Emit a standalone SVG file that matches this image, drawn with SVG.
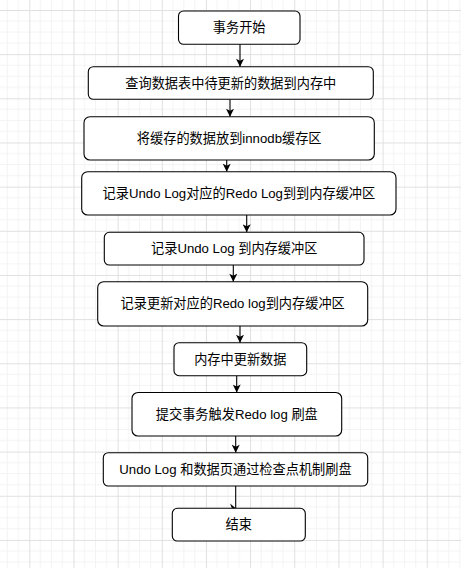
<svg xmlns="http://www.w3.org/2000/svg" width="461" height="568" viewBox="0 0 461 568">
<defs>
<pattern id="grid" x="29.3" y="10" width="44.16" height="44.16" patternUnits="userSpaceOnUse">
<path d="M11.04 0V44.16M22.08 0V44.16M33.12 0V44.16M0 11.04H44.16M0 22.08H44.16M0 33.12H44.16" stroke="#f3f3f3" stroke-width="1" fill="none"/>
<path d="M0.5 0V44.16M0 0.5H44.16" stroke="#e0e0e0" stroke-width="1" fill="none"/>
</pattern>
<marker id="arr" viewBox="0 0 10 10" refX="10" refY="5" markerWidth="10" markerHeight="8" markerUnits="userSpaceOnUse" orient="auto">
<path d="M0,0 L10,5 L0,10 L2.5,5 Z" fill="#000"/>
</marker>
<style>
.box{fill:#fff;stroke:#000;stroke-width:1.1}
.t{font-family:"Liberation Sans","Noto Sans CJK SC",sans-serif;font-size:13.2px;fill:#000;text-anchor:middle;dominant-baseline:central}
.c{stroke:#000;stroke-width:1.1;fill:none}
</style>
</defs>
<rect width="461" height="568" fill="#fff"/>
<rect width="461" height="568" fill="url(#grid)"/>
<g id="connectors">
<line class="c" x1="240" y1="44.3" x2="240" y2="66.7" marker-end="url(#arr)"/>
<line class="c" x1="230" y1="99.3" x2="230" y2="116.7" marker-end="url(#arr)"/>
<line class="c" x1="226.7" y1="160" x2="226.7" y2="171.7" marker-end="url(#arr)"/>
<line class="c" x1="246.7" y1="215" x2="246.7" y2="232.3" marker-end="url(#arr)"/>
<line class="c" x1="233.3" y1="265" x2="233.3" y2="281.7" marker-end="url(#arr)"/>
<line class="c" x1="240" y1="326" x2="240" y2="342.7" marker-end="url(#arr)"/>
<line class="c" x1="236.7" y1="375.7" x2="236.7" y2="392.5" marker-end="url(#arr)"/>
<line class="c" x1="235.7" y1="436" x2="235.7" y2="452.7" marker-end="url(#arr)"/>
<line class="c" x1="235.7" y1="486" x2="235.7" y2="508.3"/>
<path d="M230,503.5 L236,508.5 L232,508.5 Z" fill="#000"/>
</g>
<g id="n1"><rect class="box" x="178.5" y="11" width="121.5" height="33.3" rx="5"/><text class="t" x="239.2" y="27.6">事务开始</text></g>
<g id="n2"><rect class="box" x="88.3" y="66.7" width="285" height="32.6" rx="5"/><text class="t" x="230.8" y="83">查询数据表中待更新的数据到内存中</text></g>
<g id="n3"><rect class="box" x="84" y="116.7" width="290.3" height="43.3" rx="6"/><text class="t" x="229.2" y="138.3">将缓存的数据放到innodb缓存区</text></g>
<g id="n4"><rect class="box" x="81.7" y="171.7" width="314.3" height="43.3" rx="6"/><text class="t" x="238.9" y="193.3">记录Undo Log对应的Redo Log到到内存缓冲区</text></g>
<g id="n5"><rect class="box" x="104.3" y="232.3" width="259.7" height="32.7" rx="5"/><text class="t" x="234.2" y="248.6">记录Undo Log 到内存缓冲区</text></g>
<g id="n6"><rect class="box" x="97.7" y="281.7" width="270" height="44.3" rx="6"/><text class="t" x="232.7" y="303.8">记录更新对应的Redo log到内存缓冲区</text></g>
<g id="n7"><rect class="box" x="174" y="342.7" width="132.7" height="33" rx="5"/><text class="t" x="240.3" y="359.2">内存中更新数据</text></g>
<g id="n8"><rect class="box" x="132" y="392.5" width="209.7" height="43.5" rx="6"/><text class="t" x="236.8" y="414.2">提交事务触发Redo log 刷盘</text></g>
<g id="n9"><rect class="box" x="103.3" y="452.7" width="264.4" height="33.3" rx="5"/><text class="t" x="235.5" y="469.3">Undo Log 和数据页通过检查点机制刷盘</text></g>
<g id="n10"><rect class="box" x="172.3" y="508.3" width="133" height="32.7" rx="5"/><text class="t" x="238.8" y="524.6">结束</text></g>
</svg>
